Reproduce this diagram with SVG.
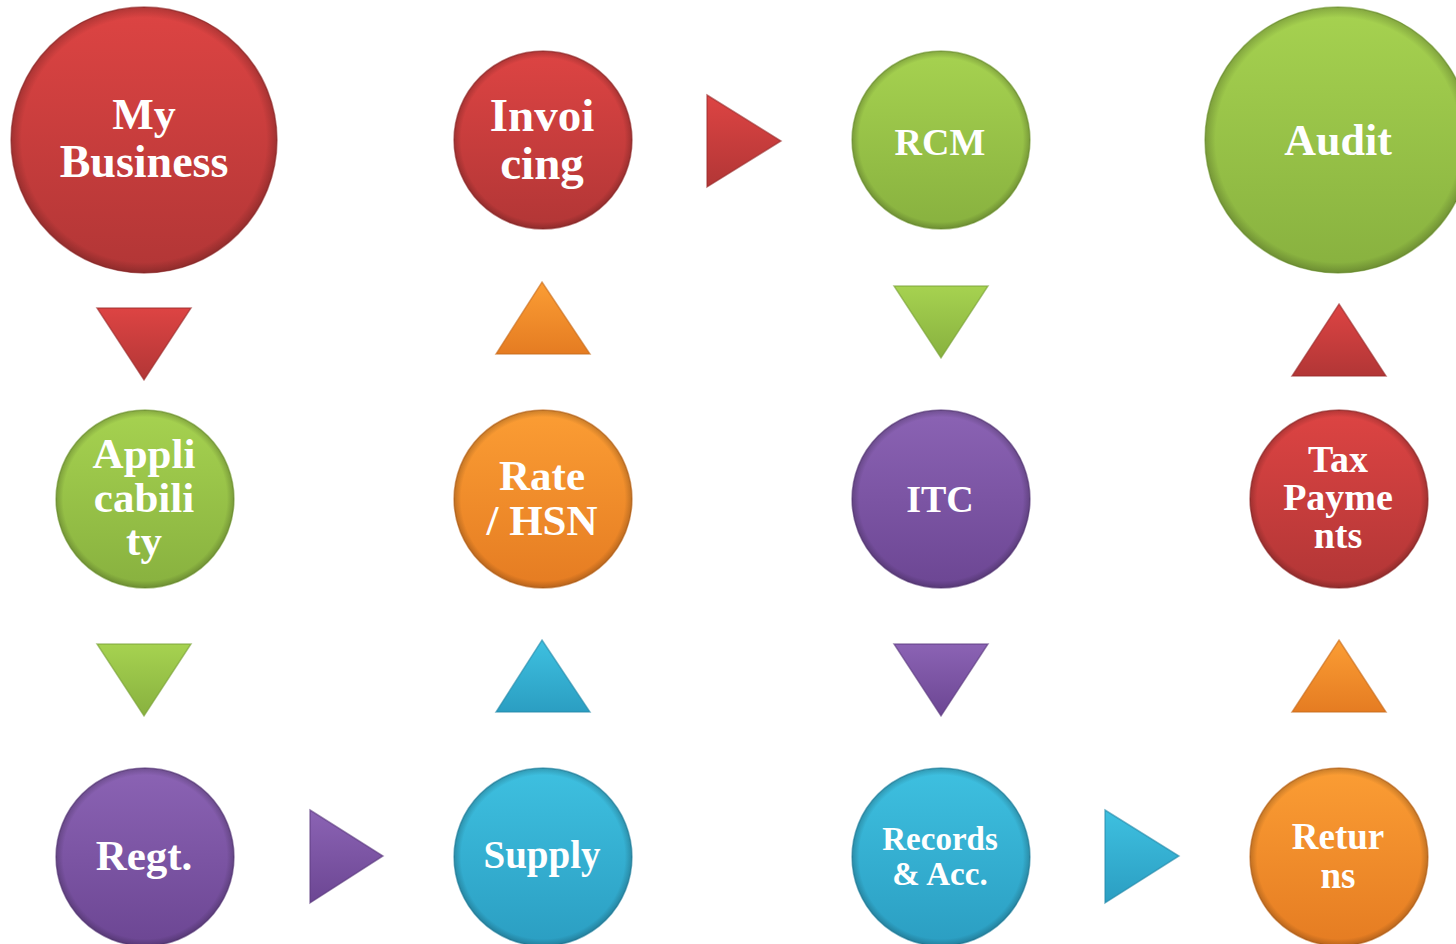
<svg xmlns="http://www.w3.org/2000/svg" width="1456" height="944" viewBox="0 0 1456 944">
<defs>
<linearGradient id="gRed" x1="0" y1="0" x2="0" y2="1"><stop offset="0" stop-color="#dd4443"/><stop offset="1" stop-color="#b23636"/></linearGradient>
<linearGradient id="gGreen" x1="0" y1="0" x2="0" y2="1"><stop offset="0" stop-color="#a6d250"/><stop offset="1" stop-color="#88b13f"/></linearGradient>
<linearGradient id="gOrange" x1="0" y1="0" x2="0" y2="1"><stop offset="0" stop-color="#fb9d34"/><stop offset="1" stop-color="#e57c22"/></linearGradient>
<linearGradient id="gPurple" x1="0" y1="0" x2="0" y2="1"><stop offset="0" stop-color="#8b63b4"/><stop offset="1" stop-color="#6c4693"/></linearGradient>
<linearGradient id="gCyan" x1="0" y1="0" x2="0" y2="1"><stop offset="0" stop-color="#3ec0e0"/><stop offset="1" stop-color="#2b9ec2"/></linearGradient>
<radialGradient id="rim" cx="0.5" cy="0.5" r="0.5">
<stop offset="0.92" stop-color="#000" stop-opacity="0"/>
<stop offset="1" stop-color="#000" stop-opacity="0.2"/>
</radialGradient>
</defs>
<style>
.red{fill:url(#gRed);stroke:#9a2c2c}
.green{fill:url(#gGreen);stroke:#78a035}
.orange{fill:url(#gOrange);stroke:#c76a1c}
.purple{fill:url(#gPurple);stroke:#5b3a7e}
.cyan{fill:url(#gCyan);stroke:#2489a8}
circle,polygon{stroke-width:1.5;stroke-opacity:0.6}
.rim{fill:url(#rim);stroke:none}
text{font-family:"Liberation Serif","Times New Roman",serif;font-weight:bold;fill:#fff;text-anchor:middle}
</style>

<g id="connectors">
<polygon class="red" points="97,308 191,308 144,380"/>
<polygon class="green" points="97,644 191,644 144,716"/>
<polygon class="orange" points="542,282 590,354 496,354"/>
<polygon class="cyan" points="542,640 590,712 496,712"/>
<polygon class="red" points="707,95 781,141 707,187"/>
<polygon class="green" points="894,286 988,286 941,358"/>
<polygon class="purple" points="894,644 988,644 941,716"/>
<polygon class="red" points="1339,304 1386,376 1292,376"/>
<polygon class="orange" points="1339,640 1386,712 1292,712"/>
<polygon class="purple" points="310,810 383,856 310,903"/>
<polygon class="cyan" points="1105,810 1179,856 1105,903"/>
</g>

<g id="my-business">
<circle class="red" cx="144" cy="140" r="133"/><circle class="rim" cx="144" cy="140" r="133"/>
<text x="144" y="129" font-size="44">My</text>
<text x="144" y="177" font-size="46">Business</text>
</g>
<g id="invoicing">
<circle class="red" cx="543" cy="140" r="89"/><circle class="rim" cx="543" cy="140" r="89"/>
<text x="542" y="131" font-size="47">Invoi</text>
<text x="542" y="179" font-size="47">cing</text>
</g>
<g id="rcm">
<circle class="green" cx="941" cy="140" r="89"/><circle class="rim" cx="941" cy="140" r="89"/>
<text x="940" y="155" font-size="38">RCM</text>
</g>
<g id="audit">
<circle class="green" cx="1338" cy="140" r="133"/><circle class="rim" cx="1338" cy="140" r="133"/>
<text x="1338" y="155" font-size="44">Audit</text>
</g>
<g id="applicability">
<circle class="green" cx="145" cy="499" r="89"/><circle class="rim" cx="145" cy="499" r="89"/>
<text x="144" y="468" font-size="43">Appli</text>
<text x="144" y="512" font-size="43">cabili</text>
<text x="144" y="555" font-size="43">ty</text>
</g>
<g id="rate-hsn">
<circle class="orange" cx="543" cy="499" r="89"/><circle class="rim" cx="543" cy="499" r="89"/>
<text x="542" y="490" font-size="43">Rate</text>
<text x="542" y="535" font-size="43">/ HSN</text>
</g>
<g id="itc">
<circle class="purple" cx="941" cy="499" r="89"/><circle class="rim" cx="941" cy="499" r="89"/>
<text x="940" y="512" font-size="38">ITC</text>
</g>
<g id="tax-payments">
<circle class="red" cx="1339" cy="499" r="89"/><circle class="rim" cx="1339" cy="499" r="89"/>
<text x="1338" y="472" font-size="38">Tax</text>
<text x="1338" y="510" font-size="38">Payme</text>
<text x="1338" y="548" font-size="38">nts</text>
</g>
<g id="regt">
<circle class="purple" cx="145" cy="857" r="89"/><circle class="rim" cx="145" cy="857" r="89"/>
<text x="144" y="870" font-size="43">Regt.</text>
</g>
<g id="supply">
<circle class="cyan" cx="543" cy="857" r="89"/><circle class="rim" cx="543" cy="857" r="89"/>
<text x="542" y="868" font-size="39">Supply</text>
</g>
<g id="records">
<circle class="cyan" cx="941" cy="857" r="89"/><circle class="rim" cx="941" cy="857" r="89"/>
<text x="940" y="850" font-size="33">Records</text>
<text x="940" y="885" font-size="33">&amp; Acc.</text>
</g>
<g id="returns">
<circle class="orange" cx="1339" cy="857" r="89"/><circle class="rim" cx="1339" cy="857" r="89"/>
<text x="1338" y="849" font-size="37">Retur</text>
<text x="1338" y="888" font-size="37">ns</text>
</g>
</svg>
